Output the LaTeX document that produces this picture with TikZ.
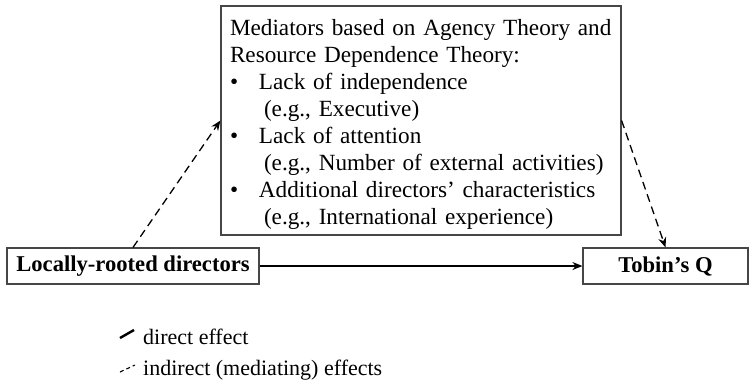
\documentclass[tikz,border=0pt]{standalone}
\usepackage{fontspec}
\setmainfont{Liberation Serif}
\usetikzlibrary{arrows.meta,positioning}
\definecolor{boxGray}{RGB}{70,70,70}

\begin{document}
\begin{tikzpicture}[
  x=1pt,y=-1pt,
  font=\fontsize{22}{27}\selectfont,
  box/.style={
    draw=boxGray,
    line width=1.2pt,
    inner sep=0pt,
    align=center
  },
  effect/.style={-{Stealth[length=10pt,width=8pt]},line width=1.8pt},
  mediating/.style={-{Stealth[length=10pt,width=8pt]},line width=1.3pt,dash pattern=on 8pt off 5pt},
  legendtext/.style={anchor=west,inner sep=0pt}
]
  \useasboundingbox (0,0) rectangle (751,384);
  \node[box,minimum width=252pt,minimum height=36pt,font=\fontsize{22.6}{27}\selectfont\bfseries] (rooted) at (133,266)
    {Locally-rooted directors};
  \node[box,minimum width=165pt,minimum height=36pt,font=\fontsize{22.6}{27}\selectfont\bfseries] (tobin) at (665.5,266)
    {Tobin's Q};
  \node[box,minimum width=400pt,minimum height=229pt,text width=382pt,align=left,
        font=\fontsize{23.2}{27.1}\selectfont] (mediators) at (421,120.5)
    {\rule{0pt}{24pt}Mediators based on Agency Theory and\\
     Resource Dependence Theory:\\
     \makebox[29pt][l]{\textbullet}Lack of independence\\
     \hspace*{34pt}(e.g., Executive)\\
     \makebox[29pt][l]{\textbullet}Lack of attention\\
     \hspace*{34pt}(e.g., Number of external activities)\\
     \makebox[29pt][l]{\textbullet}Additional directors' characteristics\\
     \hspace*{34pt}(e.g., International experience)};
  \draw[effect] (rooted) -- (tobin);
  \draw[mediating] (rooted.north) -- (mediators.west);
  \draw[mediating] (mediators.east) -- (tobin.north);
  % legend
  \coordinate (directA) at (120,338);
  \coordinate (directB) at (134,330);
  \coordinate (indirectA) at (120,372);
  \coordinate (indirectB) at (135,365);
  \draw[line width=2.4pt] (directA) -- (directB);
  \draw[line width=1.1pt,dash pattern=on 4pt off 3pt] (indirectA) -- (indirectB);
  \node[legendtext] (directlabel) at (143,337) {direct effect};
  \node[legendtext] (indirectlabel) at (143,370) {indirect (mediating) effects};
\end{tikzpicture}
\end{document}
